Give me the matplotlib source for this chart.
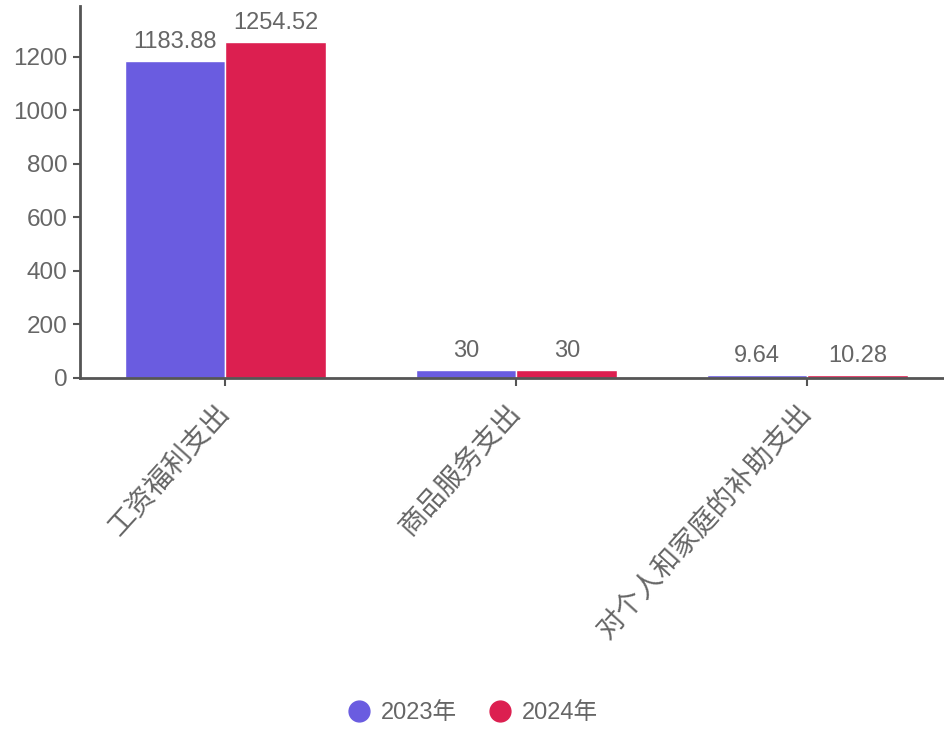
import matplotlib
matplotlib.use("Agg")
import matplotlib.pyplot as plt
import numpy as np
from matplotlib.lines import Line2D

categories = ["工资福利支出", "商品服务支出", "对个人和家庭的补助支出"]
series_names = ["2023年", "2024年"]
values_2023 = [1183.88, 30, 9.64]
values_2024 = [1254.52, 30, 10.28]
yticks = [0, 200, 400, 600, 800, 1000, 1200]

colors = ["#6a5ce0", "#dc1f50"]
num_font = ["Liberation Sans Narrow", "Liberation Sans", "Noto Sans CJK SC", "DejaVu Sans"]
cjk_font = ["Noto Sans CJK SC", "DejaVu Sans"]
text_color = "#666666"
axis_color = "#555555"

fig = plt.figure(figsize=(9.45, 7.29), dpi=100)
ax = fig.add_axes([80/945, 1-378/729, 873/945, 372/729])

x = np.arange(len(categories))
w = 0.347
b1 = ax.bar(x - w/2, values_2023, width=w, color=colors[0], edgecolor="white", linewidth=1, label=series_names[0])
b2 = ax.bar(x + w/2, values_2024, width=w, color=colors[1], edgecolor="white", linewidth=1, label=series_names[1])

for bars in (b1, b2):
    labs = ax.bar_label(bars, fmt="%g", padding=6, color=text_color, fontsize=17)
    for t in labs:
        t.set_family(num_font)

ax.set_xlim(-0.5, 2.5)
ax.set_ylim(0, 1390)
ax.set_yticks(yticks)
ax.set_yticklabels([str(v) for v in yticks], family=num_font, fontsize=17.5, color=text_color)
ax.set_xticks(x)
ax.set_xticklabels(categories, family=cjk_font, fontsize=20, color=text_color,
                   rotation=48, ha="right", va="center", rotation_mode="anchor")

for s in ["top", "right"]:
    ax.spines[s].set_visible(False)
for s in ["left", "bottom"]:
    ax.spines[s].set_color(axis_color)
    ax.spines[s].set_linewidth(2)
ax.tick_params(axis="y", length=5, width=1.5, color=axis_color, pad=4)
ax.tick_params(axis="x", length=6, width=1.5, color=axis_color, pad=16)

handles = [Line2D([0], [0], marker="o", linestyle="none", markersize=15,
                  markerfacecolor=c, markeredgecolor=c) for c in colors]
leg = fig.legend(handles, series_names, loc="center", bbox_to_anchor=(0.5, 1-713/729),
                 ncol=2, frameon=False, handletextpad=0.45, columnspacing=1.3,
                 handlelength=1.0, prop={"family": num_font, "size": 17})
for t in leg.get_texts():
    t.set_color(text_color)

fig.savefig("out.png", dpi=100)
